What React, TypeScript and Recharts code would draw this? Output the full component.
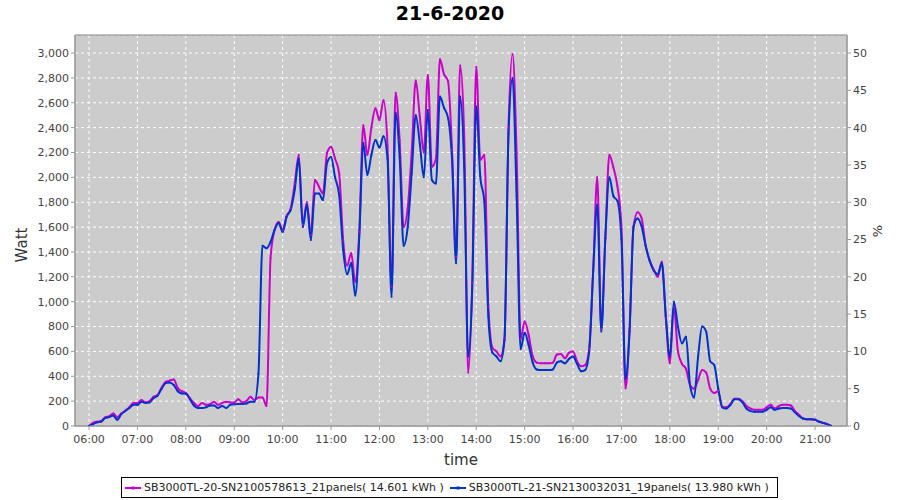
import { LineChart, Line, XAxis, YAxis, CartesianGrid, ReferenceArea } from 'recharts'

// inverter log, one sample every 5 minutes starting 06:00
const startMinute = 360
const stepMinutes = 5

const sb20Watt = [
  0, 25, 35, 40, 70, 78, 100, 70, 100, 125, 150, 185,
  185, 210, 190, 200, 235, 250, 310, 355, 365, 375, 305, 280,
  265, 225, 185, 160, 185, 170, 175, 195, 170, 185, 195, 190,
  190, 215, 190, 200, 236, 210, 230, 230, 160, 1350, 1577, 1640,
  1577, 1690, 1750, 1950, 2180, 1620, 1800, 1537, 1979, 1925, 1870, 2196,
  2247, 2150, 2035, 1496, 1290, 1390, 1160, 1560, 2420, 2180, 2400, 2556,
  2460, 2620, 2250, 1121, 2680, 2300, 1600, 1750, 2207, 2780, 2488, 2200,
  2824, 2086, 2150, 2950, 2830, 2775, 2220, 1362, 2900, 2350, 430, 1150,
  2890, 2140, 2180, 960, 630, 600, 560, 700, 2400, 2990, 2200, 700,
  840, 730, 560, 510, 504, 504, 504, 510, 575, 580, 544, 590,
  600, 520, 480, 490, 620, 1255, 2000, 780, 1510, 2180, 2080, 1930,
  1600, 303, 760, 1604, 1720, 1671, 1450, 1330, 1260, 1200, 1322, 870,
  504, 960, 600, 500, 460, 330, 300, 370, 450, 430, 300, 265,
  280, 150, 150, 175, 220, 220, 200, 160, 140, 130, 130, 130,
  150, 170, 140, 160, 170, 170, 165, 120, 90, 60, 55, 55,
  50, 35, 25, 15, 0,
]

const sb21Watt = [
  0, 15, 30, 35, 65, 72, 85, 50, 95, 120, 145, 170,
  170, 195, 185, 190, 225, 245, 300, 345, 350, 330, 280, 262,
  260, 215, 165, 145, 145, 150, 165, 165, 145, 160, 145, 170,
  175, 177, 177, 180, 196, 196, 420, 1450, 1430, 1480, 1577, 1633,
  1560, 1684, 1740, 1900, 2150, 1600, 1778, 1496, 1870, 1870, 1818, 2115,
  2164, 2000, 1860, 1416, 1220, 1311, 1050, 1523, 2277, 2020, 2180, 2301,
  2240, 2330, 2150, 1040, 2520, 2166, 1450, 1600, 2033, 2500, 2274, 2000,
  2542, 1979, 1950, 2650, 2560, 2480, 2140, 1309, 2650, 2086, 560, 1100,
  2569, 2006, 1805, 880, 590, 560, 520, 692, 2350, 2800, 1850, 620,
  750, 650, 510, 455, 450, 450, 450, 455, 510, 520, 504, 540,
  560, 500, 440, 450, 600, 1255, 1780, 760, 1510, 2000, 1850, 1810,
  1500, 380, 760, 1604, 1670, 1604, 1450, 1330, 1250, 1220, 1310, 880,
  557, 1000, 800, 665, 718, 330, 230, 557, 800, 760, 520, 490,
  300, 150, 140, 169, 215, 215, 190, 140, 120, 115, 115, 115,
  130, 150, 130, 140, 145, 145, 140, 110, 80, 60, 55, 55,
  50, 35, 25, 15, 0,
]

const hourTicks = [360, 420, 480, 540, 600, 660, 720, 780, 840, 900, 960, 1020, 1080, 1140, 1200, 1260]
const wattTicks = [0, 200, 400, 600, 800, 1000, 1200, 1400, 1600, 1800, 2000, 2200, 2400, 2600, 2800, 3000]
const pctTicks = [0, 5, 10, 15, 20, 25, 30, 35, 40, 45, 50]

const seriesNames = [
  'SB3000TL-20-SN2100578613_21panels( 14.601 kWh )',
  'SB3000TL-21-SN2130032031_19panels( 13.980 kWh )',
]
const seriesColors = ['#cc00cc', '#0033cc']

const chartTitle = '21-6-2020'

const xMin = 342.6
const xMax = 1299.6
const wattMax = 3145

const data = sb20Watt.map((w, i) => ({
  t: startMinute + i * stepMinutes,
  sb20: w,
  sb21: sb21Watt[i],
}))

const pad = (n: number) => String(n).padStart(2, '0')
const fmtTime = (m: number) => `${pad(Math.floor(m / 60))}:${pad(m % 60)}`

const font = "'DejaVu Sans', sans-serif"
const tickStyle = { fill: '#444', fontSize: 11, fontFamily: font }

export default function App() {
  return (
    <div style={{ position: 'absolute', left: 0, top: 0, width: 900, height: 500, background: '#fff', fontFamily: font }}>
      <div style={{ position: 'absolute', top: 2, width: 900, textAlign: 'center', fontSize: 19, fontWeight: 'bold', color: '#000' }}>
        {chartTitle}
      </div>
      <LineChart width={900} height={500} data={data} margin={{ top: 35, right: 0, bottom: 54, left: 0 }}>
        <CartesianGrid fill="#cccccc" stroke="#ffffff" strokeDasharray="3 3" />
        <XAxis
          dataKey="t"
          type="number"
          domain={[xMin, xMax]}
          ticks={hourTicks}
          tickFormatter={fmtTime}
          allowDataOverflow
          height={20}
          tick={tickStyle}
          tickSize={4}
          tickMargin={5}
          stroke="#999"
        />
        <YAxis
          domain={[0, wattMax]}
          ticks={wattTicks}
          allowDataOverflow
          width={75}
          tick={tickStyle}
          tickSize={4}
          tickFormatter={(v: number) => v.toLocaleString('en-US')}
          stroke="#999"
        />
        <YAxis
          yAxisId="pct"
          orientation="right"
          domain={[0, wattMax / 60]}
          ticks={pctTicks}
          allowDataOverflow
          width={53}
          tick={tickStyle}
          tickSize={4}
          stroke="#999"
        />
        <ReferenceArea x1={xMin} x2={xMax} y1={0} y2={wattMax} fill="none" stroke="#808080" strokeWidth={1} />
        <Line
          dataKey="sb20"
          type="monotone"
          stroke={seriesColors[0]}
          strokeWidth={2}
          dot={{ r: 1, fill: seriesColors[0], stroke: 'none' }}
          isAnimationActive={false}
        />
        <Line
          dataKey="sb21"
          type="monotone"
          stroke={seriesColors[1]}
          strokeWidth={2}
          dot={{ r: 1, fill: seriesColors[1], stroke: 'none' }}
          isAnimationActive={false}
        />
      </LineChart>
      <div style={{ position: 'absolute', left: 3, top: 235, width: 40, height: 20, transform: 'rotate(-90deg)', textAlign: 'center', fontSize: 15, color: '#333' }}>
        Watt
      </div>
      <div style={{ position: 'absolute', left: 860, top: 221, width: 40, height: 20, transform: 'rotate(-90deg)', textAlign: 'center', fontSize: 13, color: '#333' }}>
        %
      </div>
      <div style={{ position: 'absolute', left: 0, top: 451, width: 922, textAlign: 'center', fontSize: 15, color: '#333' }}>
        time
      </div>
      <div
        style={{
          position: 'absolute',
          left: 121,
          top: 477,
          width: 655,
          height: 19,
          border: '1px solid #000',
          display: 'flex',
          alignItems: 'center',
          fontSize: 11,
          color: '#222',
          whiteSpace: 'nowrap',
        }}
      >
        {seriesNames.map((name, i) => (
          <div key={name} style={{ display: 'flex', alignItems: 'center', marginLeft: i === 0 ? 3 : 6 }}>
            <svg width={16} height={6} style={{ marginRight: 3 }}>
              <line x1={0} y1={3} x2={16} y2={3} stroke={seriesColors[i]} strokeWidth={2} />
              <rect x={6.5} y={1.5} width={3} height={3} fill={seriesColors[i]} />
            </svg>
            <span>{name}</span>
          </div>
        ))}
      </div>
    </div>
  )
}
